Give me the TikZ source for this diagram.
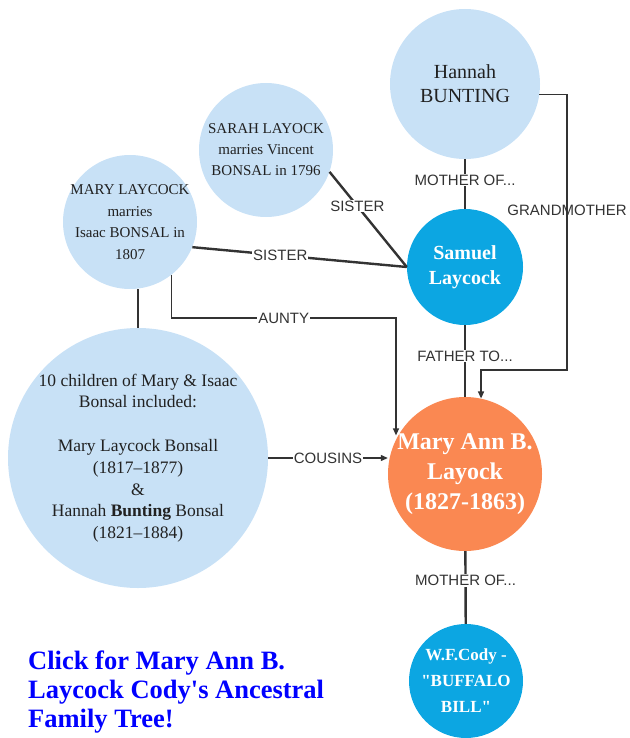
\documentclass[tikz,border=0pt]{standalone}
\usepackage{fontspec}
\setmainfont{Liberation Serif}
\newfontfamily\labelfont{Liberation Sans}
\usepackage{xcolor}
\usetikzlibrary{arrows.meta,shapes.geometric,calc}
\definecolor{paleblue}{RGB}{200,225,246}
\definecolor{skyblue}{RGB}{12,166,226}
\definecolor{peach}{RGB}{250,136,82}
\definecolor{linegray}{RGB}{51,51,51}
\definecolor{linkblue}{RGB}{0,0,255}

\begin{document}
\begin{tikzpicture}[x=1pt,y=-1pt]
		\tikzstyle{person}=[circle, inner sep=0pt, align=center, text=black!87]
		\tikzstyle{pale}=[person, fill=paleblue]
		\tikzstyle{bright}=[person, fill=skyblue, text=white]
		\tikzstyle{relation}=[font=\labelfont\fontsize{15}{15}\selectfont, text=linegray, fill=white, inner sep=1pt]
		\tikzstyle{bond}=[line width=2.4pt, linegray]
		\tikzstyle{link}=[line width=1.2pt, linegray, -{Triangle[length=7pt,width=6pt]}]
		\useasboundingbox (0,0) rectangle (629,738);
		% people
		\node [pale, minimum size=150, font=\fontsize{20}{24}\selectfont] (hannah) at (465,84) {Hannah\\BUNTING};
		\node [pale, minimum size=134, font=\fontsize{15}{21}\selectfont] (sarah) at (266,150) {SARAH LAYOCK\\marries Vincent\\BONSAL in 1796};
		\node [pale, minimum size=134, inner sep=-6pt, font=\fontsize{15}{21.5}\selectfont] (marylay) at (130,222) {MARY LAYCOCK\\marries\\Isaac BONSAL in\\1807};
		\node [bright, minimum size=116, font=\bfseries\fontsize{20}{25}\selectfont] (samuel) at (465,267) {Samuel\\Laycock};
		\node [pale, minimum size=260, inner sep=-2pt, font=\fontsize{17.5}{21.8}\selectfont] (children) at (138,458) {10 children of Mary \& Isaac\\Bonsal included:\\[21.8pt]Mary Laycock Bonsall\\(1817--1877)\\\&\\Hannah \textbf{Bunting} Bonsal\\(1821--1884)};
		\node [person, fill=peach, text=white, minimum size=154, inner sep=-5pt, font=\bfseries\fontsize{24}{30}\selectfont] (maryann) at (465,474) {Mary Ann B.\\Layock\\(1827-1863)};
		\node [bright, minimum size=114, font=\bfseries\fontsize{17}{26}\selectfont] (cody) at (466,681) {W.F.Cody -\\\textquotedbl BUFFALO\\BILL\textquotedbl};
		% bends
		\coordinate (gmbend) at (567,370);
		\coordinate (auntybend) at (396,318);
		% family lines
		\draw [bond] (hannah) -- node[relation, pos=0.42] {MOTHER OF...} (samuel);
		\draw [bond] (samuel) -- node[relation, pos=0.43] {FATHER TO...} (maryann);
		\draw [bond] (maryann) -- node[relation, pos=0.4] {MOTHER OF...} (cody);
		\draw [bond] (sarah.-19) -- node[relation, pos=0.36] {SISTER} (samuel.180);
		\draw [bond] (marylay.-22) -- node[relation, pos=0.41] {SISTER} (samuel.180);
		\draw [bond] (children.north) -- (children.north |- marylay.south);
		% arrows
		\draw [link] (hannah.-8) -| node[relation, pos=0.71, fill=none] {GRANDMOTHER} (gmbend) -| (maryann.78);
		\draw [link] (marylay.-52) |- node[relation, pos=0.75] {AUNTY} (auntybend) -- (auntybend |- maryann.150);
		\draw [link] (children.east) -- node[relation] {COUSINS} (children.east -| maryann.west);
		% link text
		\node [anchor=north west, align=left, inner sep=0pt, text=linkblue, font=\bfseries\fontsize{26.5}{29}\selectfont] (treelink) at (28,651) {Click for Mary Ann B.\\Laycock Cody\textquotesingle s Ancestral\\Family Tree!};
	\end{tikzpicture}
\end{document}
